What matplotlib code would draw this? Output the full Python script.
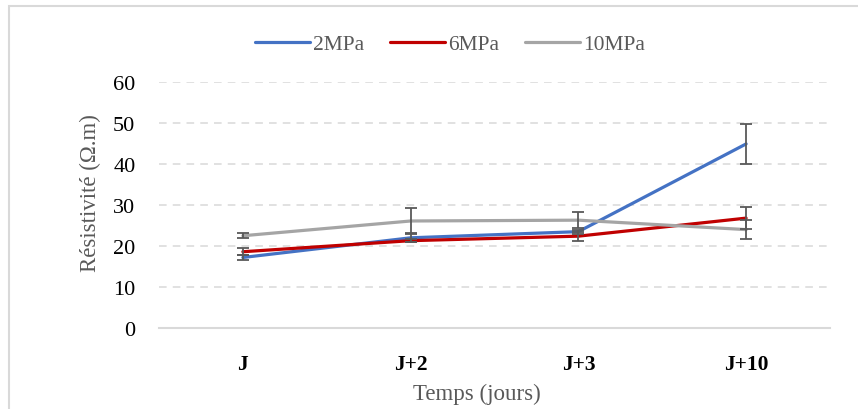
import matplotlib
matplotlib.use("Agg")
import matplotlib.pyplot as plt
from matplotlib.patches import Rectangle

categories = ["J", "J+2", "J+3", "J+10"]
series_names = ["2MPa", "6MPa", "10MPa"]
v_2mpa = [17.2, 22.0, 23.5, 44.9]
e_2mpa = [0.6, 1.1, 0.5, 4.9]
v_6mpa = [18.6, 21.3, 22.4, 26.8]
e_6mpa = [0.8, 0.3, 1.1, 2.6]
v_10mpa = [22.5, 26.1, 26.3, 24.0]
e_10mpa = [0.6, 3.1, 2.0, 2.3]
colors = ["#4472C4", "#C00000", "#A5A5A5"]

W, H = 858, 410
fig = plt.figure(figsize=(W / 100, H / 100), dpi=100)
font = ["Liberation Serif", "DejaVu Serif"]
plt.rcParams["font.family"] = font

# outer frame (only left/top visible)
fig.patches.append(Rectangle((9 / W, -0.1), 1.2, (H - 7) / H + 0.1,
                             transform=fig.transFigure, fill=False,
                             edgecolor="#D9D9D9", linewidth=1.5))

left, right, top, bottom = 159, 830, 83, 329
ax = fig.add_axes([left / W, 1 - bottom / H, (right - left) / W, (bottom - top) / H])

x = list(range(len(categories)))
for vals, errs, c, name in zip([v_2mpa, v_6mpa, v_10mpa],
                               [e_2mpa, e_6mpa, e_10mpa], colors, series_names):
    ax.plot(x, vals, color=c, lw=2.3, label=name, solid_capstyle="round", zorder=3)
    ax.errorbar(x, vals, yerr=errs, fmt="none", ecolor="#595959", elinewidth=1.3,
                capsize=4.3, capthick=1.3, zorder=4)

ax.set_xlim(-0.5, len(categories) - 0.5)
ax.set_ylim(0, 60)
ax.set_yticks(range(0, 61, 10))
ax.set_xticks(x)
ax.set_xticklabels(categories, fontweight="bold", fontsize=15.5, color="black")
ax.tick_params(axis="y", labelsize=16, labelcolor="black", length=0, pad=17)
ax.tick_params(axis="x", length=0, pad=19)
ax.grid(axis="y", color="#D9D9D9", linestyle=(0, (5, 4)), linewidth=1.1)
ax.set_axisbelow(True)
for s in ["top", "right", "left"]:
    ax.spines[s].set_visible(False)
ax.spines["bottom"].set_color("#D9D9D9")
ax.spines["bottom"].set_linewidth(1.5)

ax.set_ylabel("Résistivité (Ω.m)", fontsize=16.5, color="#595959")
ax.yaxis.set_label_coords(-0.087, 0.551)
ax.set_xlabel("Temps (jours)", fontsize=16.5, color="#595959")
ax.xaxis.set_label_coords(0.474, -0.222)

leg = ax.legend(loc="center", bbox_to_anchor=(450 / W, (H - 45) / H), bbox_transform=fig.transFigure,
                ncol=3, frameon=False, fontsize=15.5, handlelength=2.55, handletextpad=0.15,
                columnspacing=1.2)
for t in leg.get_texts():
    t.set_color("#595959")

fig.savefig("out.png", dpi=100)
